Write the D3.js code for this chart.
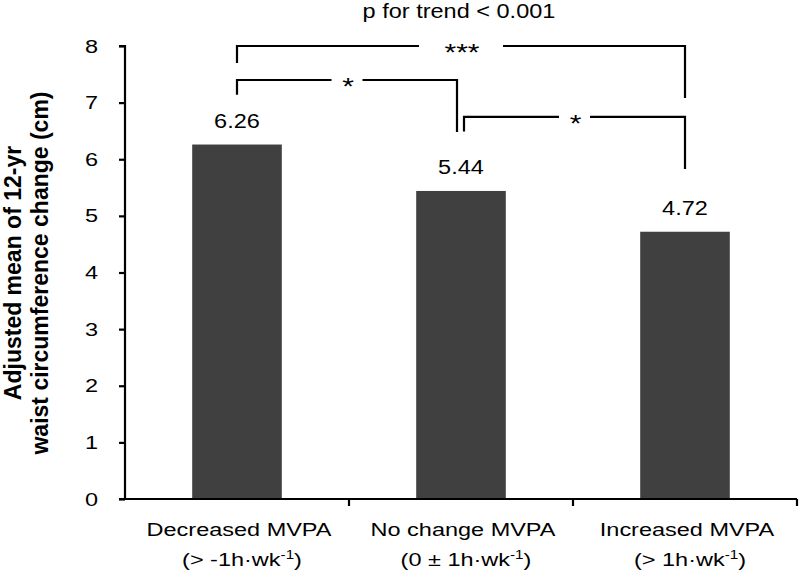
<!DOCTYPE html>
<html><head><meta charset="utf-8">
<script src="https://d3js.org/d3.v7.min.js"></script>
<style>body{margin:0;background:#fff}text{font-family:"Liberation Sans",Arial,sans-serif;fill:#000}</style>
</head><body><svg id="c" width="800" height="574"></svg>
<script>
const categories = ["Decreased MVPA","No change MVPA","Increased MVPA"];
const subLabels = [["(> -1h·wk","-1",")"],["(0 ± 1h·wk","-1",")"],["(> 1h·wk","-1",")"]];
const values = [6.26, 5.44, 4.72];
const valueLabels = ["6.26","5.44","4.72"];
const yTicks = [0,1,2,3,4,5,6,7,8];
const brackets = [
  {from:0, to:2, level:8.0, leftDrop:0.3, rightDrop:0.92, label:"***", fromOff:0, toOff:0},
  {from:0, to:1, level:7.4, leftDrop:0.26, rightDrop:0.92, label:"*", fromOff:0, toOff:-4},
  {from:1, to:2, level:6.75, leftDrop:0.26, rightDrop:0.92, label:"*", fromOff:3, toOff:0}
];
const svg = d3.select("#c");
const m = {l:125, r:797, t:46, b:499};
const x = d3.scaleBand().domain(categories).range([m.l, m.r]).padding(0);
const y = d3.scaleLinear().domain([0,8]).range([m.b, m.t]);
const bw = x.bandwidth()*0.4;
const cx = c => x(c)+x.bandwidth()/2;

function label(px, py, size, sx, anchor, rot){
  return svg.append("text")
    .attr("transform",`translate(${px},${py})${rot?" rotate("+rot+")":""} scale(${sx},1)`)
    .attr("text-anchor",anchor).attr("font-size",size);
}

// bars
svg.selectAll("rect.bar").data(values).join("rect")
  .attr("x",(d,i)=>cx(categories[i])-bw/2)
  .attr("y",d=>y(d)).attr("width",bw).attr("height",d=>y(0)-y(d)).attr("fill","#404040");

// value labels
values.forEach((v,i)=>{
  label(cx(categories[i]), y(v)-17, 21, 1.12, "middle").text(valueLabels[i]);
});

// y axis
const ya = svg.append("g").attr("transform",`translate(${m.l},0)`)
  .call(d3.axisLeft(y).tickValues(yTicks).tickSize(6).tickFormat(""));
ya.selectAll("path,line").attr("stroke","#000").attr("stroke-width",2.2);
ya.select("path.domain").attr("d",`M-6,${y(8)}H0V${y(0)}`);
yTicks.forEach(t=>{
  label(m.l-27, y(t)+6.5, 18.5, 1.27, "end").text(t);
});

// x axis
const bounds = categories.map(c=>x(c)+x.bandwidth());
svg.append("line").attr("x1",m.l-6).attr("x2",m.r).attr("y1",y(0)).attr("y2",y(0)).attr("stroke","#000").attr("stroke-width",2.2);
svg.selectAll("line.xt").data(bounds).join("line")
  .attr("x1",d=>d).attr("x2",d=>d).attr("y1",y(0)).attr("y2",y(0)+7).attr("stroke","#000").attr("stroke-width",2.2);

categories.forEach((c,i)=>{
  label(cx(c)+2, 536, 18.5, 1.27, "middle").text(c);
  const t = label(cx(c)+5, 566, 18.5, 1.27, "middle");
  t.append("tspan").text(subLabels[i][0]);
  t.append("tspan").attr("dy",-7).attr("font-size",12).text(subLabels[i][1]);
  t.append("tspan").attr("dy",7).text(subLabels[i][2]);
});

// y title
const yt = svg.append("text").attr("transform","translate(0,273) rotate(-90)").attr("text-anchor","middle")
  .attr("font-size",23).attr("font-weight","bold");
yt.append("tspan").attr("x",0).attr("y",20.5).text("Adjusted mean of 12-yr");
yt.append("tspan").attr("x",0).attr("y",48).text("waist circumference change (cm)");

// brackets
brackets.forEach(b=>{
  const x1 = cx(categories[b.from])+b.fromOff;
  const x2 = cx(categories[b.to])+b.toOff;
  const yy = y(b.level);
  const yl = y(b.level-b.leftDrop), yr = y(b.level-b.rightDrop);
  const mid = (x1+x2)/2;
  const gap = b.label.length>1 ? 42 : 15.5;
  const g = svg.append("g").attr("fill","none").attr("stroke","#000").attr("stroke-width",2.2);
  g.append("path").attr("d",`M${x1},${yl}V${yy}H${mid-gap}`);
  g.append("path").attr("d",`M${mid+gap},${yy}H${x2}V${yr}`);
  label(mid+1, yy+15, 24, 1.25, "middle").text(b.label);
});

label(459, 18, 21, 1.12, "middle").text("p for trend < 0.001");
</script></body></html>
